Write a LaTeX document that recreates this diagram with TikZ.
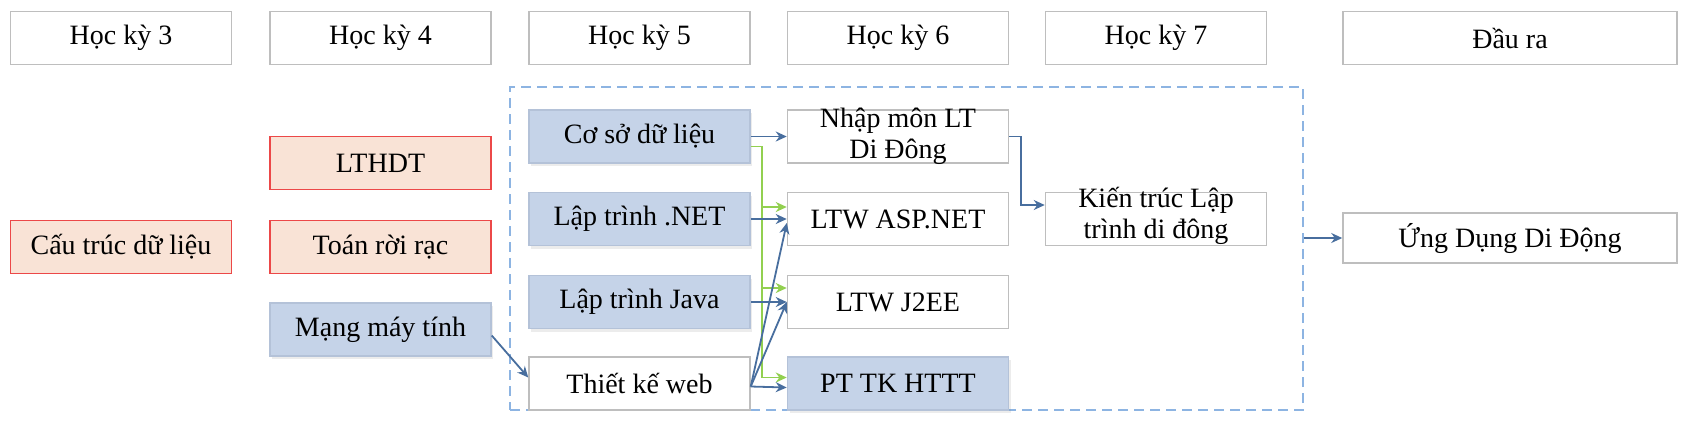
\documentclass[tikz,border=0pt]{standalone}
\usepackage{fontspec}
\setmainfont{Liberation Serif}
\usetikzlibrary{positioning, arrows.meta, shadows, calc}

\definecolor{hkblue}{RGB}{197,211,232}
\definecolor{hkblueline}{RGB}{180,194,216}
\definecolor{hkpeach}{RGB}{249,227,214}
\definecolor{hkred}{RGB}{236,72,72}
\definecolor{hkgray}{RGB}{190,190,190}
\definecolor{hkarrow}{RGB}{72,110,158}
\definecolor{hkgreen}{RGB}{146,208,80}
\definecolor{hkdash}{RGB}{141,180,226}

\begin{document}
\begin{tikzpicture}[
    x=0.5pt, y=-0.5pt,
    box/.style={draw=hkgray, line width=0.75pt, minimum width=110.5pt,
                minimum height=26.5pt, inner sep=1pt, align=center,
                font=\fontsize{14}{15.5}\selectfont},
    head/.style={box},
    plain/.style={box, fill=white},
    core/.style={box, fill=hkblue, draw=hkblueline,
                 drop shadow={shadow xshift=1pt, shadow yshift=-1.5pt, opacity=0.15}},
    prereq/.style={box, fill=hkpeach, draw=hkred},
    twoline/.style={text height=24pt, text depth=2.5pt, inner ysep=0pt},
    groupbox/.style={draw=hkdash, dash pattern=on 5pt off 3pt, line width=0.75pt,
                     minimum width=396.5pt, minimum height=161.5pt},
    arrow/.style={-{Stealth[length=5.5pt, width=5pt]}, draw=hkarrow, line width=0.9pt},
    greenarrow/.style={arrow, draw=hkgreen},
]
\useasboundingbox (0,0) rectangle (1698,420);

% ── Semester headers ─────────────────────────────────────────────────────
\foreach \i/\xc in {3/121, 4/380.5, 5/639.5, 6/898, 7/1156} {
    \node[head] (hk\i) at (\xc, 38) {Học kỳ \i};
}
\node[head, minimum width=167pt] (hkout) at (1510, 38) {Đầu ra};

% ── Group of semesters 5-7 ───────────────────────────────────────────────
\node[groupbox] (nhom) at (906.5, 248.5) {};

% ── Semester 3 and 4 ─────────────────────────────────────────────────────
\node[prereq] (ctdl) at (121, 247) {Cấu trúc dữ liệu};
\node[prereq] (lthdt) at (380.5, 163) {LTHDT};
\node[prereq] (trr) at (380.5, 247) {Toán rời rạc};
\node[core] (mmt) at (380.5, 329.5) {Mạng máy tính};

% ── Semester 5 ───────────────────────────────────────────────────────────
\node[core] (csdl) at (639.5, 136.5) {Cơ sở dữ liệu};
\node[core] (ltnet) at (639.5, 219) {Lập trình .NET};
\node[core] (ltjava) at (639.5, 302) {Lập trình Java};
\node[plain] (tkweb) at (639.5, 383.5) {Thiết kế web};

% ── Semester 6 ───────────────────────────────────────────────────────────
\node[plain, twoline] (nmlt) at (898, 136.5) {Nhập môn LT\\Di Đông};
\node[plain] (asp) at (898, 219) {LTW ASP.NET};
\node[plain] (j2ee) at (898, 302) {LTW J2EE};
\node[core] (pttk) at (898, 383.5) {PT TK HTTT};

% ── Semester 7 and output ────────────────────────────────────────────────
\node[plain, twoline, text height=23pt, text depth=3.5pt] (ktlt) at (1156, 219)
    {Kiến trúc Lập\\trình di đông};
\node[plain, minimum width=167pt, minimum height=25pt] (udd) at (1510, 238)
    {Ứng Dụng Di Động};

% ── Connectors ───────────────────────────────────────────────────────────
\coordinate (gbend) at ([shift={(5.5pt,-5pt)}]csdl.east);
\foreach \t/\dy in {asp/6pt, j2ee/7pt, pttk/3pt} {
    \draw[greenarrow] ([yshift=-5pt]csdl.east) -- (gbend) |- ([yshift=\dy]\t.west);
}
\draw[arrow] (csdl.east) -- (nmlt.west);
\draw[arrow] (ltnet.east) -- (asp.west);
\draw[arrow] (ltjava.east) -- (j2ee.west);
\foreach \t/\dy in {asp/-2pt, j2ee/0pt, pttk/-2pt} {
    \draw[arrow] ([yshift=-1.5pt]tkweb.east) -- ([yshift=\dy]\t.west);
}
\draw[arrow] ([yshift=-3pt]mmt.east) -- ([yshift=3pt]tkweb.west);
\draw[arrow] (nmlt.east) -- ++(6pt,0) |- ([yshift=7pt]ktlt.west);
\draw[arrow] (nhom.east |- udd.west) -- (udd.west);

\end{tikzpicture}
\end{document}
